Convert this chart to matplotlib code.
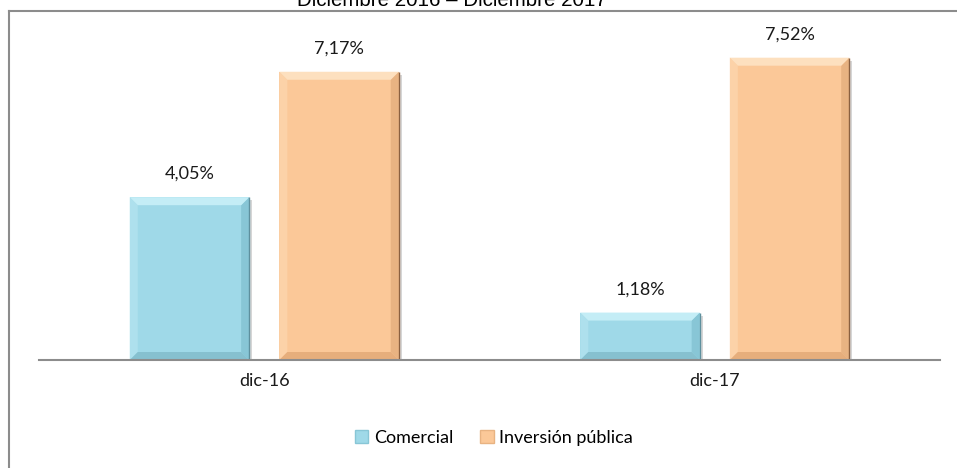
import matplotlib
matplotlib.use("Agg")
import matplotlib.pyplot as plt
from matplotlib.patches import Polygon
from matplotlib.lines import Line2D
import numpy as np

categories = ["dic-16", "dic-17"]
series_names = ["Comercial", "Inversión pública"]
comercial = [4.05, 1.18]
inversion = [7.17, 7.52]
labels_comercial = ["4,05%", "1,18%"]
labels_inversion = ["7,17%", "7,52%"]
title = "Diciembre 2016 – Diciembre 2017"

W, H = 957, 468
DPI = 100
fig = plt.figure(figsize=(W / DPI, H / DPI), dpi=DPI)
fig.patch.set_facecolor("white")

ax_left, ax_right = 39, 940
ax_bottom, ax_top = 360, 20
ax = fig.add_axes([ax_left / W, 1 - ax_bottom / H, (ax_right - ax_left) / W, (ax_bottom - ax_top) / H])
ax.set_xlim(-0.5, 1.5)
ymax = (ax_bottom - ax_top) / 40.2
ax.set_ylim(0, ymax)

x = np.arange(len(categories))
bw = 0.265
off = 0.166

colors = {
    "face": ["#9fd9e8", "#fbc898"],
    "top": ["#c4edf6", "#fde0bf"],
    "left": ["#aee0ed", "#fcd2a8"],
    "right": ["#88c6d6", "#e8b382"],
    "bottom": ["#86c0cf", "#e6ae7c"],
    "edge": ["#5e909e", "#8a6040"],
    "shadow": ["#d6d6d6", "#d6d6d6"],
}

pxx = (ax_right - ax_left) / 2.0
pxy = (ax_bottom - ax_top) / ymax

def bevel(ax, rect, i):
    x0, y0 = rect.get_x(), rect.get_y()
    w, h = rect.get_width(), rect.get_height()
    x1, y1 = x0 + w, y0 + h
    b = 8
    dx = b / pxx
    dy = min(b / pxy, h / 3)
    ix0, ix1, iy0, iy1 = x0 + dx, x1 - dx, y0 + dy, y1 - dy
    # soft shadow on right side
    sx = 3 / pxx
    sy = 3 / pxy
    ax.add_patch(plt.Rectangle((x0 + sx, y0), w, h - sy, facecolor=colors["shadow"][i],
                               edgecolor="none", zorder=1.5))
    polys = [
        ([(x0, y0), (x0, y1), (ix0, iy1), (ix0, iy0)], colors["left"][i]),
        ([(x1, y0), (x1, y1), (ix1, iy1), (ix1, iy0)], colors["right"][i]),
        ([(x0, y0), (x1, y0), (ix1, iy0), (ix0, iy0)], colors["bottom"][i]),
        ([(x0, y1), (x1, y1), (ix1, iy1), (ix0, iy1)], colors["top"][i]),
    ]
    for pts, c in polys:
        ax.add_patch(Polygon(pts, closed=True, facecolor=c, edgecolor="none", zorder=3))
    ax.plot([x1, x1, x0], [y1, y0, y0], color=colors["edge"][i], linewidth=1.0, zorder=4,
            solid_capstyle="butt")

bars1 = ax.bar(x - off, comercial, bw, color=colors["face"][0], zorder=2, label=series_names[0])
bars2 = ax.bar(x + off, inversion, bw, color=colors["face"][1], zorder=2, label=series_names[1])
for r in bars1:
    bevel(ax, r, 0)
for r in bars2:
    bevel(ax, r, 1)

font = "Lato"
fs = 13
for bars, labs in ((bars1, labels_comercial), (bars2, labels_inversion)):
    for r, lab in zip(bars, labs):
        ax.annotate(lab, (r.get_x() + r.get_width() / 2, r.get_height()),
                    xytext=(0, 11), textcoords="offset points", ha="center", va="bottom",
                    fontsize=fs, family=font, color="#1a1a1a")

for s in ["top", "right", "left"]:
    ax.spines[s].set_visible(False)
ax.spines["bottom"].set_color("#8c8c8c")
ax.spines["bottom"].set_linewidth(1.5)
ax.spines["bottom"].set_zorder(5)
ax.set_yticks([])
ax.set_xticks(x)
ax.set_xticklabels(categories, fontsize=fs, family=font, color="#1a1a1a")
ax.tick_params(axis="x", length=0, pad=9)

handles = [plt.Rectangle((0, 0), 1, 1, facecolor=colors["face"][0], edgecolor=colors["right"][0]),
           plt.Rectangle((0, 0), 1, 1, facecolor=colors["face"][1], edgecolor=colors["right"][1])]
fig.legend(handles, series_names, loc="center", bbox_to_anchor=(494 / W, 1 - 438 / H), ncol=2,
           frameon=False, prop={"family": font, "size": fs}, handlelength=0.75, handleheight=0.75,
           handletextpad=0.3, columnspacing=1.5)

fig.add_artist(Line2D([9 / W, 1.0], [1 - 11 / H, 1 - 11 / H], color="#8c8c8c", linewidth=1.5))
fig.add_artist(Line2D([9 / W, 9 / W], [1 - 11 / H, 0.0], color="#8c8c8c", linewidth=1.5))

fig.text(452 / W, 1 - 6 / H, title, ha="center", va="baseline", fontsize=14.8,
         family="Liberation Sans", color="#000000")

fig.savefig("out.png", dpi=DPI, facecolor="white")
